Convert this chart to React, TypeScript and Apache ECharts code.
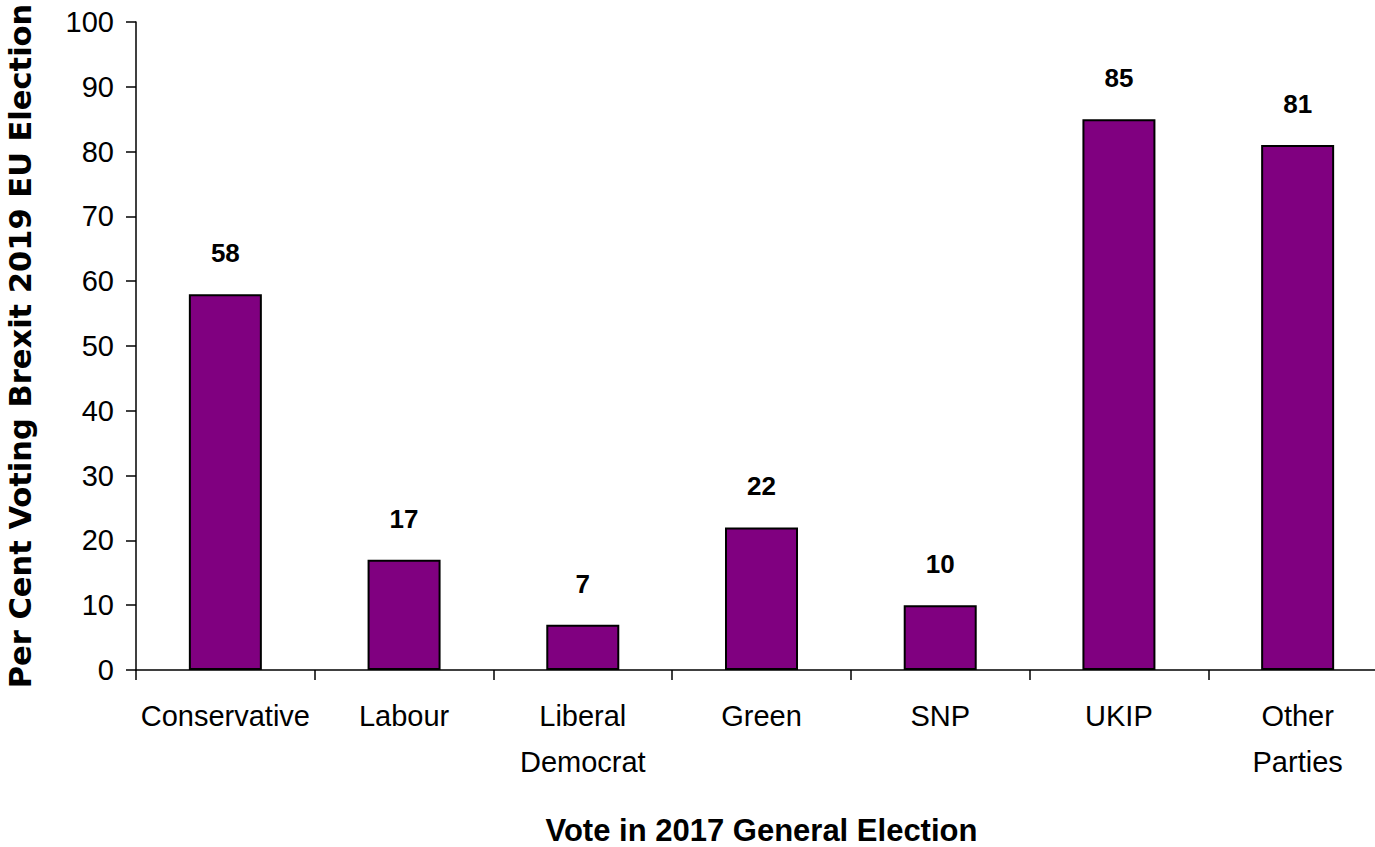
import React, { useEffect, useRef } from "react";
import * as echarts from "echarts";

const categories = ["Conservative", "Labour", "Liberal\nDemocrat", "Green", "SNP", "UKIP", "Other\nParties"];
const values = [58, 17, 7, 22, 10, 85, 81];
const yTicks = { min: 0, max: 100, interval: 10 };

const SANS = "'Liberation Sans', Arial, sans-serif";

export default function App() {
  const ref = useRef<HTMLDivElement>(null);
  useEffect(() => {
    if (!ref.current) return;
    const chart = echarts.init(ref.current, null, { renderer: "svg" });
    chart.setOption({
      animation: false,
      grid: { left: 136, right: -12, top: 22, bottom: 177, containLabel: false, outerBoundsMode: "none" },
      xAxis: {
        type: "category",
        data: categories,
        name: "Vote in 2017 General Election",
        nameLocation: "middle",
        nameGap: 145,
        nameTextStyle: { fontFamily: SANS, fontWeight: "bold", fontSize: 31, color: "#000" },
        axisLine: { lineStyle: { color: "#000", width: 1.5 } },
        axisTick: { show: true, length: 10, alignWithLabel: false, interval: 0, lineStyle: { color: "#000", width: 1.5 } },
        axisLabel: {
          interval: 0,
          margin: 23,
          fontFamily: SANS,
          fontSize: 29,
          color: "#000",
          lineHeight: 46,
          verticalAlign: "top",
        },
      },
      yAxis: {
        type: "value",
        min: yTicks.min,
        max: yTicks.max,
        interval: yTicks.interval,
        name: "Per Cent Voting Brexit 2019 EU Election",
        nameLocation: "middle",
        nameGap: 100,
        nameRotate: 90,
        nameTextStyle: { fontFamily: "'DejaVu Sans', sans-serif", fontWeight: "bold", fontSize: 30.5, color: "#000" },
        splitLine: { show: false },
        axisLine: { show: true, lineStyle: { color: "#000", width: 1.5 } },
        axisTick: { show: true, length: 10, lineStyle: { color: "#000", width: 1.5 } },
        axisLabel: { fontFamily: SANS, fontSize: 29, color: "#000", margin: 22 },
      },
      series: [
        {
          type: "bar",
          data: values,
          barWidth: 73,
          itemStyle: { color: "#800080", borderColor: "#000", borderWidth: 2 },
          label: {
            show: true,
            position: "top",
            distance: 28,
            fontFamily: SANS,
            fontWeight: "bold",
            fontSize: 26,
            color: "#000",
          },
        },
      ],
    });
    return () => chart.dispose();
  }, []);
  return (
    <div
      ref={ref}
      style={{ position: "absolute", left: 0, top: 0, width: 1375, height: 847, background: "#fff" }}
    />
  );
}
